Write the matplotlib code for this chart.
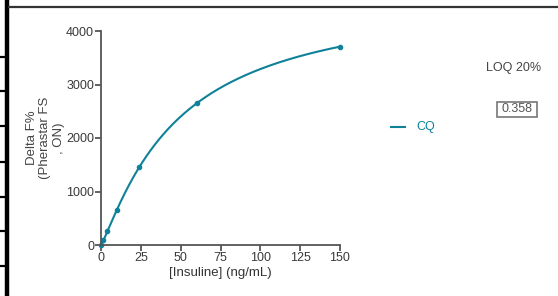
import numpy as np
import matplotlib
matplotlib.use("Agg")
import matplotlib.pyplot as plt
from matplotlib.lines import Line2D
from matplotlib.patches import Rectangle

plt.rcParams['font.family'] = ['Liberation Sans', 'DejaVu Sans']

# standard curve, insulin dilutions
conc = [0, 1.5, 4, 10, 24, 60, 150]
delta_f = [0, 100, 255, 650, 1455, 2645, 3710]
series_name = "CQ"
loq_label = "LOQ 20%"
loq_value = "0.358"
x_ticks = [0, 25, 50, 75, 100, 125, 150]
y_ticks = [0, 1000, 2000, 3000, 4000]

TEAL = '#0f8199'
GREY = '#555555'

def fit_hill(x, y):
    # grid search on K and n, Bmax by linear least squares
    x = np.asarray(x, float)
    y = np.asarray(y, float)
    best = None
    for k in np.linspace(10, 200, 381):
        for n in np.linspace(0.6, 2.0, 141):
            g = x**n / (k**n + x**n)
            bmax = (g @ y) / (g @ g)
            err = np.sum((bmax * g - y) ** 2)
            if best is None or err < best[0]:
                best = (err, bmax, k, n)
    return best[1:]

bmax, k, n = fit_hill(conc, delta_f)
xs = np.linspace(0, max(conc), 400)
ys = bmax * xs**n / (k**n + xs**n)

fig = plt.figure(figsize=(5.58, 2.96), dpi=100)
ax = fig.add_axes([101 / 558, 1 - 245 / 296, 239 / 558, 214 / 296])

ax.plot(xs, ys, color=TEAL, lw=1.5, clip_on=False)
ax.plot(conc, delta_f, 'o', color=TEAL, ms=3, clip_on=False)

ax.set_xlim(0, 150)
ax.set_ylim(0, 4000)
ax.set_xticks(x_ticks)
ax.set_yticks(y_ticks)
for s in ['top', 'right']:
    ax.spines[s].set_visible(False)
for s in ['left', 'bottom']:
    ax.spines[s].set_color(GREY)
    ax.spines[s].set_linewidth(1.3)
ax.tick_params(colors=GREY, labelcolor='#3a3a3a', labelsize=9, length=4, width=1.3, pad=1)
ax.set_xlabel('[Insuline] (ng/mL)', fontsize=9.5, color='#333333', labelpad=2)
ax.set_ylabel('Delta F%\n(Pherastar FS\n, ON)', fontsize=9.5, color='#444444', labelpad=1, linespacing=1.15)

# legend
fig.add_artist(Line2D([391 / 558, 405 / 558], [1 - 127 / 296] * 2, color=TEAL, lw=1.5))
fig.text(416 / 558, 1 - 127 / 296, series_name, color=TEAL, fontsize=9, va='center')

# LOQ annotation
fig.text(514 / 558, 1 - 68 / 296, loq_label, color='#444444', fontsize=9, ha='center', va='center')
fig.add_artist(Rectangle((497 / 558, 1 - 117 / 296), 40 / 558, 15 / 296, transform=fig.transFigure,
                         fc='white', ec='#777777', lw=1.2))
fig.text(517 / 558, 1 - 109.5 / 296, loq_value, color='#555555', fontsize=9, ha='center', va='center')

# sheet borders of the screenshot
fig.add_artist(Line2D([7 / 558, 7 / 558], [0, 1], color='black', lw=3.2))
fig.add_artist(Line2D([9 / 558, 1], [1 - 6.5 / 296] * 2, color='#333333', lw=1.6))
for yy in [57, 91, 126, 162, 197, 231, 266]:
    fig.add_artist(Line2D([0, 6 / 558], [1 - yy / 296] * 2, color='black', lw=1.6))

fig.savefig('out.png', dpi=100)
